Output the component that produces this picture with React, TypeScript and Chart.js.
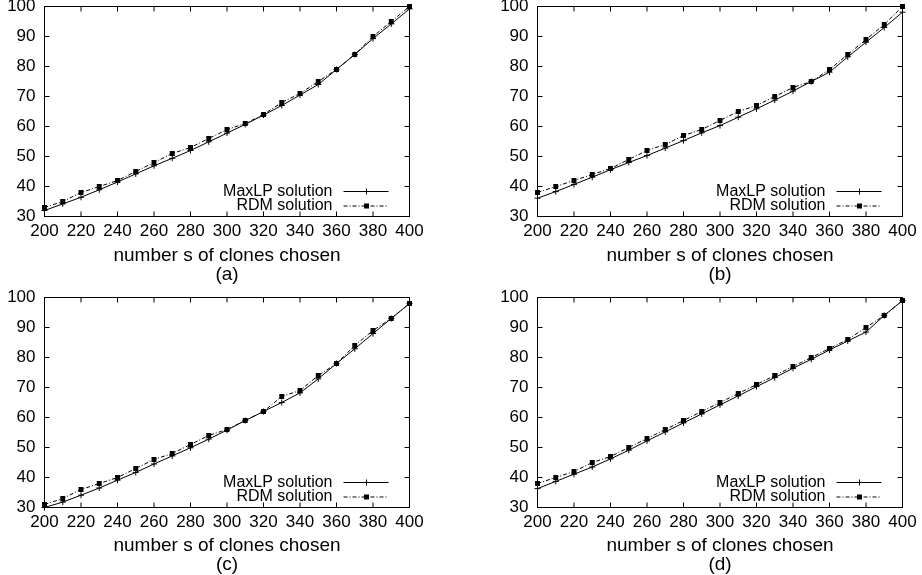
import React, { useEffect, useRef } from 'react';
import { Chart, registerables } from 'chart.js';

Chart.register(...registerables);

const xValues = [200, 210, 220, 230, 240, 250, 260, 270, 280, 290, 300, 310, 320, 330, 340, 350, 360, 370, 380, 390, 400];
const xTicks = [200, 220, 240, 260, 280, 300, 320, 340, 360, 380, 400];
const yTicks = [30, 40, 50, 60, 70, 80, 90, 100];
const seriesNames = ['MaxLP solution', 'RDM solution'];
const xTitle = 'number s of clones chosen';
const panelLabels = ['(a)', '(b)', '(c)', '(d)'];

const maxlpA = [32, 34.2, 36.4, 38.9, 41.5, 44.2, 46.9, 49.4, 52, 54.9, 57.8, 60.7, 63.8, 67, 70.5, 74, 79, 84, 89.3, 94.2, 99.2];
const rdmA = [33, 35, 38, 40, 42, 45, 48, 51, 53, 56, 59, 61, 64, 68, 71, 75, 79, 84, 90, 95, 100];

const maxlpB = [36.1, 38.3, 40.7, 43.1, 45.6, 48, 50.3, 52.8, 55.3, 57.9, 60.3, 63.1, 65.9, 68.8, 71.8, 75, 78.1, 83.2, 88.1, 93, 98.1];
const rdmB = [38, 40, 42, 44, 46, 49, 52, 54, 57, 59, 62, 65, 67, 70, 73, 75, 79, 84, 89, 94, 100];

const maxlpC = [30, 31.8, 34.1, 36.5, 39.1, 41.7, 44.5, 47.2, 49.9, 52.8, 55.8, 59, 62, 65, 68.2, 72.9, 78, 82.9, 88, 93, 98];
const rdmC = [31, 33, 36, 38, 40, 43, 46, 48, 51, 54, 56, 59, 62, 67, 69, 74, 78, 84, 89, 93, 98];

const maxlpD = [36.3, 38.7, 41.1, 43.5, 46.2, 49.1, 52.2, 55.2, 58.2, 61.2, 64.2, 67.2, 70.3, 73.3, 76.4, 79.4, 82.5, 85.5, 88.5, 94, 99];
const rdmD = [38, 40, 42, 45, 47, 50, 53, 56, 59, 62, 65, 68, 71, 74, 77, 80, 83, 86, 90, 94, 99];

const FONT = '"Liberation Sans", Arial, Helvetica, sans-serif';
const RDM_DASH = [4, 2, 1, 2];

const framePlugin = {
  id: 'gnuFrame',
  beforeDatasetsDraw(chart: any) {
    const { ctx, chartArea } = chart;
    const { left, right, top, bottom } = chartArea;
    const x = chart.scales.x;
    const y = chart.scales.y;
    ctx.save();
    ctx.strokeStyle = '#000';
    ctx.lineWidth = 1;
    ctx.setLineDash([]);
    ctx.strokeRect(left, top, right - left, bottom - top);
    ctx.beginPath();
    for (const v of yTicks) {
      const py = y.getPixelForValue(v);
      ctx.moveTo(left, py);
      ctx.lineTo(left + 5, py);
      ctx.moveTo(right, py);
      ctx.lineTo(right - 5, py);
    }
    for (const v of xTicks) {
      const px = x.getPixelForValue(v);
      ctx.moveTo(px, bottom);
      ctx.lineTo(px, bottom - 5);
      ctx.moveTo(px, top);
      ctx.lineTo(px, top + 5);
    }
    ctx.stroke();
    ctx.restore();
  },
  afterDraw(chart: any) {
    const { ctx, chartArea } = chart;
    const { right, bottom } = chartArea;
    ctx.save();
    ctx.font = `16px ${FONT}`;
    ctx.textAlign = 'right';
    ctx.textBaseline = 'middle';
    ctx.fillStyle = '#000';
    ctx.strokeStyle = '#000';
    ctx.lineWidth = 1;
    chart.data.datasets.forEach((ds: any, i: number) => {
      const yy = bottom - 25 + i * 14.5;
      ctx.fillText(ds.label, right - 77, yy);
      ctx.beginPath();
      ctx.setLineDash(i === 0 ? [] : RDM_DASH);
      ctx.moveTo(right - 66, yy);
      ctx.lineTo(right - 21, yy);
      ctx.stroke();
      ctx.setLineDash([]);
      const mx = right - 43;
      if (i === 0) {
        ctx.beginPath();
        ctx.moveTo(mx - 3, yy);
        ctx.lineTo(mx + 3, yy);
        ctx.moveTo(mx, yy - 3);
        ctx.lineTo(mx, yy + 3);
        ctx.stroke();
      } else {
        ctx.fillRect(mx - 2.5, yy - 2.5, 5, 5);
      }
    });
    ctx.restore();
  },
};

type PanelProps = {
  left: number;
  top: number;
  width: number;
  height: number;
  yW: number;
  pT: number;
  pR: number;
  xH: number;
  maxlp: number[];
  rdm: number[];
  label: string;
};

function Panel(p: PanelProps) {
  const ref = useRef<HTMLCanvasElement>(null);
  useEffect(() => {
    if (!ref.current) return;
    const chart = new Chart(ref.current, {
      type: 'line',
      data: {
        datasets: [
          {
            label: seriesNames[0],
            data: xValues.map((x, i) => ({ x, y: p.maxlp[i] })),
            borderColor: '#000',
            backgroundColor: '#000',
            borderWidth: 1,
            pointStyle: 'cross',
            pointRadius: 3,
            pointBorderWidth: 1,
            pointBorderColor: '#000',
            tension: 0,
            clip: false,
          } as any,
          {
            label: seriesNames[1],
            data: xValues.map((x, i) => ({ x, y: p.rdm[i] })),
            borderColor: '#000',
            backgroundColor: '#000',
            borderWidth: 1,
            borderDash: RDM_DASH,
            pointStyle: 'rect',
            pointRadius: 3.5,
            pointBorderWidth: 0,
            pointBackgroundColor: '#000',
            tension: 0,
            clip: false,
          } as any,
        ],
      },
      options: {
        animation: false,
        responsive: false,
        devicePixelRatio: 1,
        events: [],
        layout: { padding: { top: p.pT, right: p.pR, left: 0, bottom: 0 } },
        plugins: {
          legend: { display: false },
          tooltip: { enabled: false },
          title: { display: false },
        },
        scales: {
          x: {
            type: 'linear',
            min: 200,
            max: 400,
            afterBuildTicks: (s: any) => {
              s.ticks = xTicks.map((v) => ({ value: v }));
            },
            grid: { display: false, drawTicks: false },
            border: { display: false },
            ticks: {
              font: { size: 17, family: FONT },
              color: '#000',
              padding: 5,
              maxRotation: 0,
              autoSkip: false,
            },
            title: {
              display: true,
              text: [xTitle, p.label],
              font: { size: 19, family: FONT, lineHeight: 1 },
              color: '#000',
              padding: 0,
            },
            afterFit: (s: any) => {
              s.height = p.xH;
              s.paddingLeft = 0;
              s.paddingRight = 0;
            },
          },
          y: {
            type: 'linear',
            min: 30,
            max: 100,
            afterBuildTicks: (s: any) => {
              s.ticks = yTicks.map((v) => ({ value: v }));
            },
            grid: { display: false, drawTicks: false },
            border: { display: false },
            ticks: {
              font: { size: 17, family: FONT },
              color: '#000',
              padding: 9,
              autoSkip: false,
            },
            afterFit: (s: any) => {
              s.width = p.yW;
              s.paddingTop = 0;
              s.paddingBottom = 0;
            },
          },
        },
      } as any,
      plugins: [framePlugin],
    });
    return () => chart.destroy();
  }, []);
  return (
    <canvas
      ref={ref}
      width={p.width}
      height={p.height}
      style={{ position: 'absolute', left: p.left, top: p.top, width: p.width, height: p.height }}
    />
  );
}

export default function App() {
  return (
    <div style={{ position: 'absolute', left: 0, top: 0, width: 922, height: 575, background: '#fff', overflow: 'hidden' }}>
      <Panel left={0} top={0} width={430} height={284} yW={44.5} pT={6.5} pR={20.5} xH={67.5} maxlp={maxlpA} rdm={rdmA} label={panelLabels[0]} />
      <Panel left={461} top={0} width={461} height={284} yW={76.5} pT={6.5} pR={19.5} xH={67.5} maxlp={maxlpB} rdm={rdmB} label={panelLabels[1]} />
      <Panel left={0} top={287} width={430} height={287} yW={44.5} pT={10.5} pR={20.5} xH={66.5} maxlp={maxlpC} rdm={rdmC} label={panelLabels[2]} />
      <Panel left={461} top={287} width={461} height={287} yW={76.5} pT={10.5} pR={19.5} xH={66.5} maxlp={maxlpD} rdm={rdmD} label={panelLabels[3]} />
    </div>
  );
}
